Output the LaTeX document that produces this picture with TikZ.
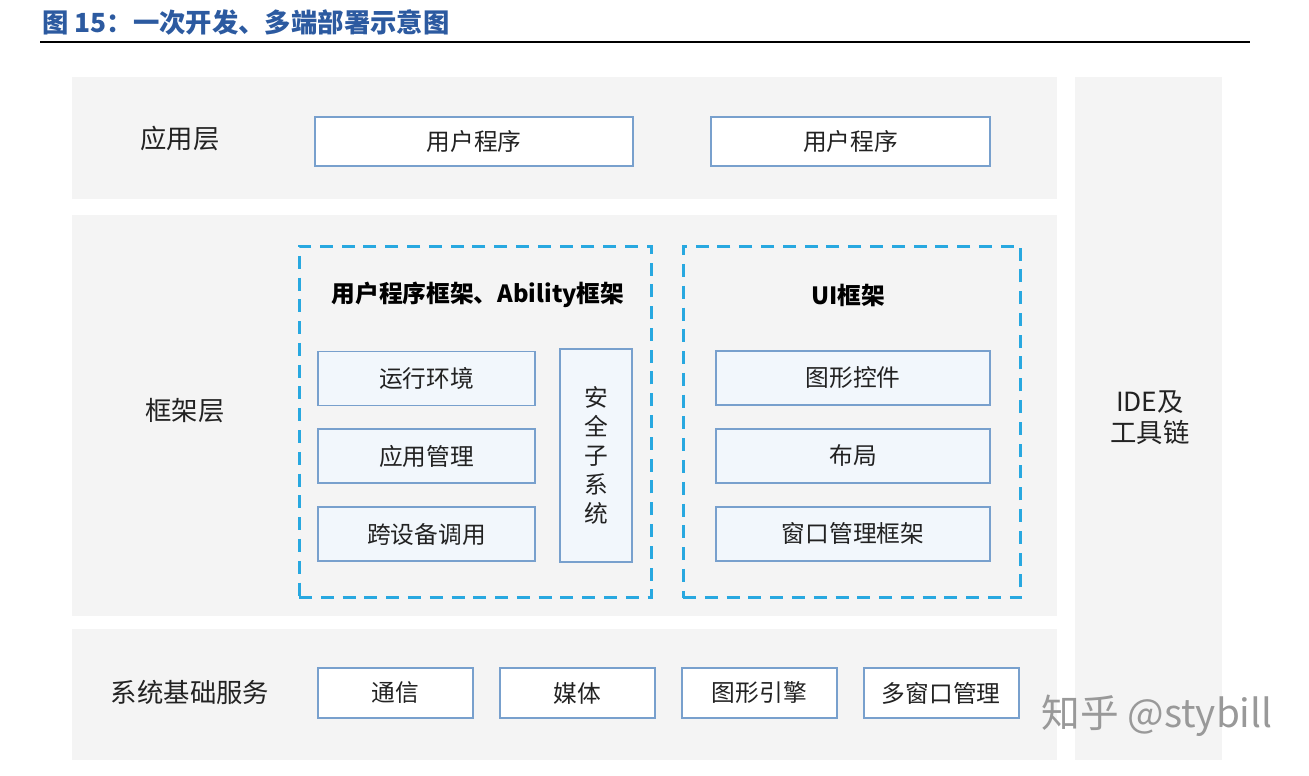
\documentclass[tikz,border=0pt]{standalone}
\usepackage{fontspec}
\setmainfont{Noto Sans CJK SC}
\usepackage{xcolor}
\usepackage{tikz}
\usetikzlibrary{positioning}
\definecolor{titleblue}{RGB}{44,90,160}
\definecolor{panel}{RGB}{244,244,244}
\definecolor{boxline}{RGB}{120,160,205}
\definecolor{boxfill}{RGB}{242,247,252}
\definecolor{dashblue}{RGB}{40,168,224}
\definecolor{txt}{RGB}{34,34,34}

\begin{document}
\begin{tikzpicture}[x=0.02cm,y=-0.02cm,
  node distance=0.44cm,
  lbl/.style={text=txt,align=center,font=\fontsize{15}{17.6}\selectfont},
  prog/.style={draw=boxline,fill=white,line width=1.1pt,inner sep=0pt,text=txt,font=\fontsize{13.5}{16.4}\selectfont},
  mod/.style={prog,fill=boxfill,minimum height=1.08cm},
  dbox/.style={draw=dashblue,line width=1.7pt,dash pattern=on 7.4pt off 5pt,inner sep=0pt},
  hd/.style={text=black,font=\bfseries\fontsize{13.5}{16}\selectfont}]
  \useasboundingbox (0,0) rectangle (1309,775);
  % title
  \node[anchor=west,inner sep=0pt,text=titleblue,font=\bfseries\fontsize{15}{18}\selectfont] (title) at (42,22) {图 15：一次开发、多端部署示意图};
  \draw[line width=1.2pt] (40,42) -- (1250,42);
  % layers
  \fill[panel] (72,77) rectangle (1057,199);
  \fill[panel] (72,215) rectangle (1057,616);
  \fill[panel] (72,629) rectangle (1057,760);
  \fill[panel] (1075,77) rectangle (1222,760);
  \node[lbl] (app) at (180,138) {应用层};
  \node[lbl] (frame) at (185,411) {框架层};
  \node[lbl] (sys) at (190,692) {系统基础服务};
  \node[lbl] (ide) at (1150,418) {IDE及\\工具链};
  % application layer
  \node[prog,minimum width=6.36cm,minimum height=0.98cm] (prog1) at (474,141.5) {用户程序};
  \node[prog,minimum width=5.58cm,minimum height=0.98cm] (prog2) at (850.5,141.5) {用户程序};
  % framework layer
  \node[dbox,minimum width=7.06cm,minimum height=7.04cm] (abilityfw) at (475.5,422) {};
  \node[dbox,minimum width=6.76cm,minimum height=7.04cm] (uifw) at (852,422) {};
  \node[hd] (abilityhd) at (478,295) {用户程序框架、Ability框架};
  \node[hd] (uihd) at (848,295) {UI框架};
  \node[mod,minimum width=4.34cm] (runenv) at (426.5,378.5) {运行环境};
  \node[mod,minimum width=4.34cm,below=of runenv] (appmgr) {应用管理};
  \node[mod,minimum width=4.34cm,below=of appmgr] (xdev) {跨设备调用};
  \node[mod,minimum width=1.44cm,minimum height=4.26cm,align=center] (secsub) at (596,455.5) {安\\全\\子\\系\\统};
  \node[mod,minimum width=5.48cm] (widget) at (853,378) {图形控件};
  \node[mod,minimum width=5.48cm,below=of widget] (layout) {布局};
  \node[mod,minimum width=5.48cm,below=of layout] (winfw) {窗口管理框架};
  % system services
  \node[prog,minimum width=3.1cm,minimum height=1cm] (comm) at (395.5,693) {通信};
  \node[prog,minimum width=3.1cm,minimum height=1cm,right=0.5cm of comm] (media) {媒体};
  \node[prog,minimum width=3.1cm,minimum height=1cm,right=0.5cm of media] (gfx) {图形引擎};
  \node[prog,minimum width=3.1cm,minimum height=1cm,right=0.5cm of gfx] (multiwin) {多窗口管理};
  % watermark
  \node[text=black!40,font=\fontsize{22}{24}\selectfont] (mark) at (1157,716) {知乎 @stybill};
\end{tikzpicture}
\end{document}
